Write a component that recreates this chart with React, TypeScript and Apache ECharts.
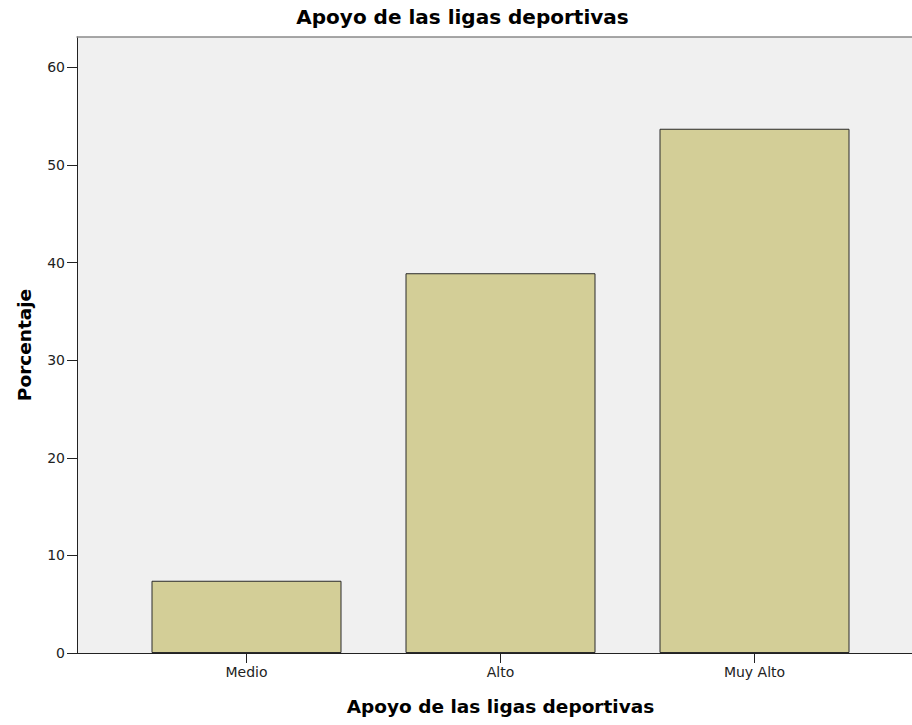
import React, { useEffect, useRef } from "react";
import * as echarts from "echarts";

const categories = ["Medio", "Alto", "Muy Alto"];
const percentages = [7.4, 38.9, 53.7];
const yTicksMax = 60;
const yFrameMax = 63.1;
const chartTitle = "Apoyo de las ligas deportivas";
const xAxisTitle = "Apoyo de las ligas deportivas";
const yAxisTitle = "Porcentaje";

const FONT = "DejaVu Sans";

export default function App() {
  const ref = useRef<HTMLDivElement>(null);
  useEffect(() => {
    document.body.style.margin = "0";
    const chart = echarts.init(ref.current!, undefined, { renderer: "svg" });
    const top = 37;
    const bottom = 72;
    const plotH = 725 - top - bottom;
    const tickTop = top + plotH * ((yFrameMax - yTicksMax) / yFrameMax);
    chart.setOption({
      animation: false,
      backgroundColor: "#ffffff",
      textStyle: { fontFamily: FONT },
      graphic: [
        {
          type: "text",
          x: 462.5,
          y: 17,
          style: {
            text: chartTitle,
            textAlign: "center",
            textVerticalAlign: "middle",
            font: `bold 20px "${FONT}"`,
            fill: "#000",
          },
        },
      ],
      grid: [
        { left: 119.5, width: 762, top, bottom },
        {
          left: 77,
          right: 0,
          top,
          bottom,
          show: true,
          backgroundColor: "#f0f0f0",
          borderWidth: 0,
          z: 0,
        },
        { left: 77, right: 0, top: tickTop, bottom },
      ],
      xAxis: [
        {
          type: "category",
          gridIndex: 0,
          data: categories,
          axisLine: { show: false },
          axisTick: { show: true, alignWithLabel: true, length: 10, lineStyle: { color: "#222", width: 1 } },
          axisLabel: { fontSize: 14, color: "#222", margin: 12, fontFamily: FONT },
          splitLine: { show: false },
          name: xAxisTitle,
          nameLocation: "middle",
          nameGap: 44,
          nameTextStyle: { fontSize: 18.5, fontWeight: "bold", color: "#000", fontFamily: FONT },
        },
        {
          type: "value",
          gridIndex: 1,
          min: 0,
          max: 1,
          axisLine: { show: true, onZero: false, lineStyle: { color: "#222", width: 1 } },
          axisTick: { show: false },
          axisLabel: { show: false },
          splitLine: { show: false },
        },
        {
          type: "value",
          gridIndex: 1,
          position: "top",
          min: 0,
          max: 1,
          axisLine: { show: true, onZero: false, lineStyle: { color: "#8a8a8a", width: 1.5 } },
          axisTick: { show: false },
          axisLabel: { show: false },
          splitLine: { show: false },
        },
        {
          type: "value",
          gridIndex: 2,
          min: 0,
          max: 1,
          show: false,
        },
      ],
      yAxis: [
        {
          type: "value",
          gridIndex: 0,
          min: 0,
          max: yFrameMax,
          show: false,
          splitLine: { show: false },
        },
        {
          type: "value",
          gridIndex: 1,
          min: 0,
          max: yFrameMax,
          axisLine: { show: true, onZero: false, lineStyle: { color: "#222", width: 1 } },
          axisTick: { show: false },
          axisLabel: { show: false },
          splitLine: { show: false },
          name: yAxisTitle,
          nameLocation: "middle",
          nameRotate: 90,
          nameGap: 43,
          nameTextStyle: { fontSize: 18.5, fontWeight: "bold", color: "#000", fontFamily: FONT },
        },
        {
          type: "value",
          gridIndex: 2,
          min: 0,
          max: yTicksMax,
          interval: 10,
          axisLine: { show: false },
          axisTick: { show: true, length: 10, lineStyle: { color: "#222", width: 1 } },
          axisLabel: { fontSize: 14, color: "#222", margin: 12, fontFamily: FONT },
          splitLine: { show: false },
        },
      ],
      series: [
        {
          type: "bar",
          xAxisIndex: 0,
          yAxisIndex: 0,
          data: percentages,
          barWidth: 190,
          itemStyle: { color: "#d3ce97", borderColor: "#2a2a2a", borderWidth: 1 },
          z: 3,
        },
      ],
    });
    return () => chart.dispose();
  }, []);
  return <div ref={ref} style={{ width: 912, height: 725 }} />;
}
